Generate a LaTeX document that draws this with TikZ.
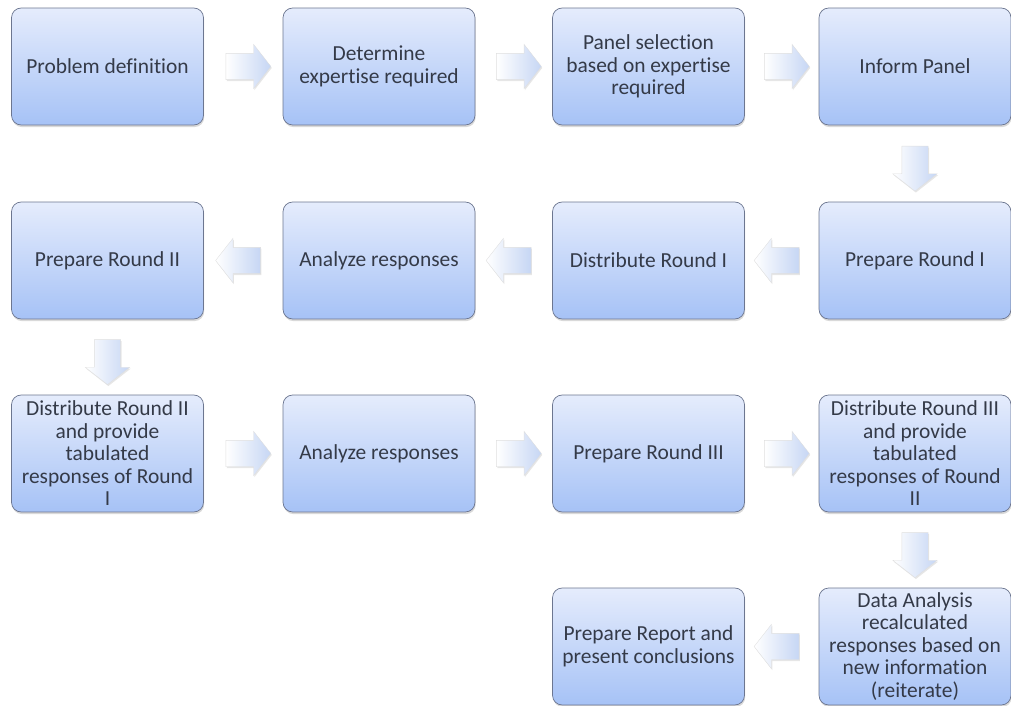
\documentclass[tikz,border=0pt]{standalone}
\usepackage{fontspec}
\setmainfont{Carlito}[Ligatures=NoCommon]
\usetikzlibrary{calc,shapes.arrows,shadows}
\definecolor{boxtop}{HTML}{E5ECFC}
\definecolor{boxbot}{HTML}{A6C2F6}
\definecolor{boxln}{HTML}{6C7690}
\definecolor{txtc}{HTML}{343A48}
\definecolor{arrc}{HTML}{C6D6F4}
\tikzset{
  stp/.style={rectangle,rounded corners=5.5pt,draw=boxln,thin,top color=boxtop,bottom color=boxbot,minimum width=3.84cm,minimum height=2.34cm,inner sep=1pt,align=center,text=txtc,font=\fontsize{12.2}{12.8}\selectfont,drop shadow={opacity=0.3,shadow xshift=0.4pt,shadow yshift=-1.2pt}},
  blk/.style={single arrow,draw=gray!25,very thin,left color=white,right color=arrc,minimum height=0.9cm,inner xsep=0pt,inner ysep=0.26cm,single arrow head extend=0.18cm,single arrow tip angle=104,drop shadow={opacity=0.2,shadow xshift=0.5pt,shadow yshift=-0.8pt}}
}

\begin{document}
\begin{tikzpicture}[x=0.02cm,y=-0.02cm]
\useasboundingbox (0,0) rectangle (1011,706);
% row 1
\node[stp] (pdef) at (107.5,66.5) {Problem definition};
\node[stp] (expert) at (379,66.5) {Determine\\expertise required};
\node[stp] (panel) at (648.5,66.5) {Panel selection\\based on expertise\\required};
\node[stp] (inform) at (915,66.5) {Inform Panel};
% row 2
\node[stp] (prep1) at (915,260.5) {Prepare Round I};
\node[stp] (dist1) at (648.5,260.5) {Distribute Round I};
\node[stp] (anal1) at (379,260.5) {Analyze responses};
\node[stp] (prep2) at (107.5,260.5) {Prepare Round II};
% row 3
\node[stp] (dist2) at (107.5,453.5) {Distribute Round II\\and provide\\tabulated\\responses of Round\\I};
\node[stp] (anal2) at (379,453.5) {Analyze responses};
\node[stp] (prep3) at (648.5,453.5) {Prepare Round III};
\node[stp] (dist3) at (915,453.5) {Distribute Round III\\and provide\\tabulated\\responses of Round\\II};
% row 4
\node[stp] (data) at (915,646.5) {Data Analysis\\recalculated\\responses based on\\new information\\(reiterate)};
\node[stp] (report) at (648.5,646.5) {Prepare Report and\\present conclusions};
% block arrows
\foreach \a/\b/\r in {pdef/expert/0,expert/panel/0,panel/inform/0,inform/prep1/-90,
  prep1/dist1/180,dist1/anal1/180,anal1/prep2/180,prep2/dist2/-90,
  dist2/anal2/0,anal2/prep3/0,prep3/dist3/0,dist3/data/-90,data/report/180}
  \node[blk,rotate=\r] (\a-\b) at ($(\a)!0.5!(\b)$) {};
\end{tikzpicture}
\end{document}
